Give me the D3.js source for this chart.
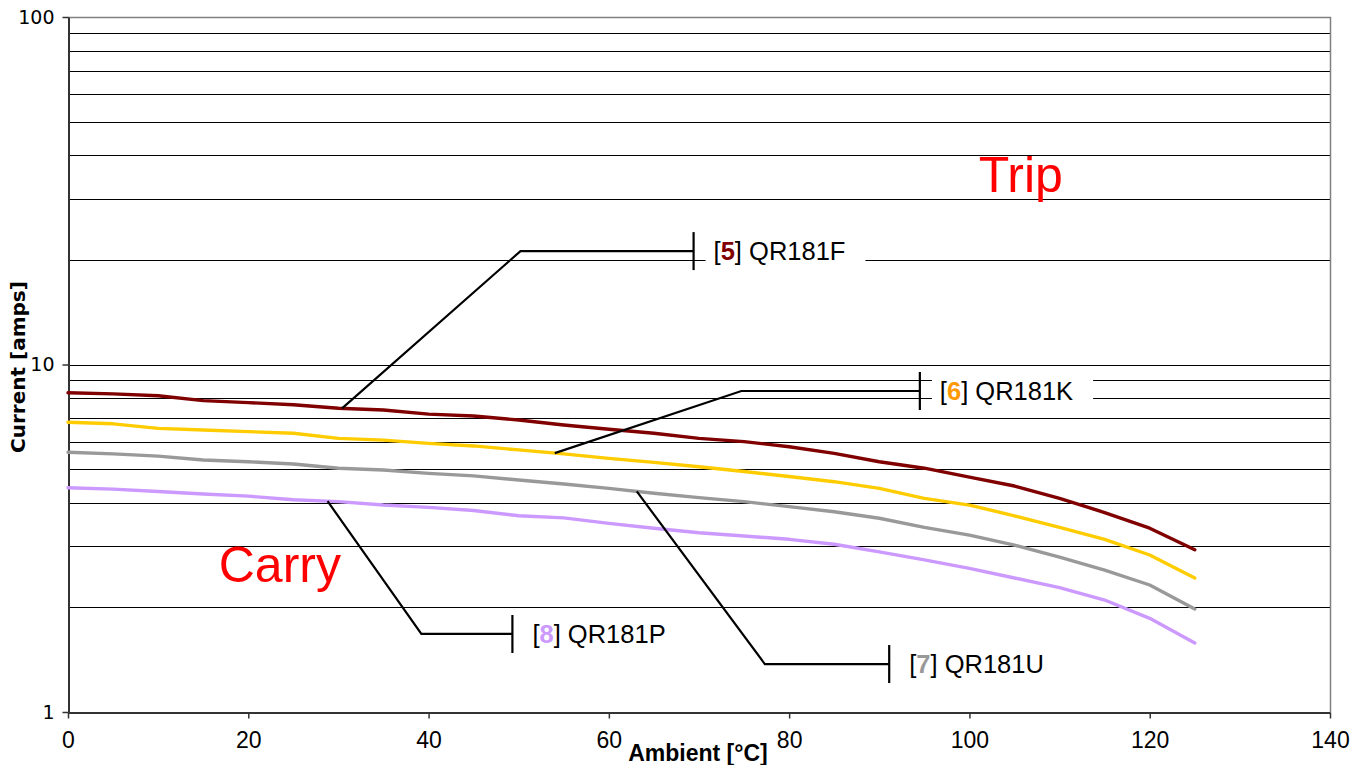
<!DOCTYPE html>
<html>
<head>
<meta charset="utf-8">
<script src="https://cdn.jsdelivr.net/npm/d3@7/dist/d3.min.js"></script>
<style>
  html, body { margin: 0; padding: 0; background: #fff; }
  svg { display: block; }
</style>
</head>
<body>
<svg id="chart" width="1364" height="765"></svg>
<script>
// Ambient temperature, °C
const temperatures = [0, 5, 10, 15, 20, 25, 30, 35, 40, 45, 50, 55, 60, 65, 70, 75, 80, 85, 90, 95, 100, 105, 110, 115, 120, 125];

// Hold / trip current per device, amps
const qr181F = [8.29, 8.23, 8.13, 7.87, 7.77, 7.66, 7.48, 7.40, 7.20, 7.11, 6.92, 6.70, 6.51, 6.34, 6.13, 6.00, 5.80, 5.55, 5.25, 5.03, 4.74, 4.47, 4.12, 3.75, 3.38, 2.93];
const qr181K = [6.82, 6.75, 6.55, 6.48, 6.41, 6.34, 6.13, 6.06, 5.93, 5.83, 5.68, 5.53, 5.37, 5.23, 5.08, 4.92, 4.76, 4.60, 4.40, 4.12, 3.94, 3.67, 3.40, 3.14, 2.83, 2.43];
const qr181U = [5.59, 5.53, 5.45, 5.31, 5.25, 5.17, 5.03, 4.97, 4.86, 4.78, 4.65, 4.53, 4.40, 4.26, 4.14, 4.03, 3.90, 3.77, 3.61, 3.40, 3.23, 3.02, 2.79, 2.56, 2.32, 1.98];
const qr181P = [4.42, 4.38, 4.31, 4.24, 4.18, 4.08, 4.03, 3.94, 3.88, 3.80, 3.67, 3.62, 3.49, 3.38, 3.28, 3.21, 3.14, 3.04, 2.89, 2.74, 2.59, 2.43, 2.28, 2.10, 1.86, 1.58];

// Series labels: bracketed index + part number
const seriesIndex = ["5", "6", "7", "8"];
const seriesNames = ["QR181F", "QR181K", "QR181U", "QR181P"];
const seriesColors = ["#800000", "#FFCC00", "#999999", "#CC99FF"];
const indexColors = ["#800000", "#FF9900", "#999999", "#CC99FF"];

// Axis ticks
const xTicks = [0, 20, 40, 60, 80, 100, 120, 140];
const yTicks = [1, 10, 100];
const yGrid = [2, 3, 4, 5, 6, 7, 8, 9, 10, 20, 30, 40, 50, 60, 70, 80, 90];

const svg = d3.select("#chart");
const W = 1364, H = 765;
const m = { left: 68, top: 17, right: 34, bottom: 53 };
const pw = W - m.left - m.right, ph = H - m.top - m.bottom;

const x = d3.scaleLinear().domain([0, 140]).range([m.left, m.left + pw]);
const y = d3.scaleLog().domain([1, 100]).range([m.top + ph, m.top]);

// Horizontal gridlines
svg.append("g").selectAll("line").data(yGrid).join("line")
  .attr("x1", x(0)).attr("x2", x(140))
  .attr("y1", d => Math.round(y(d)) + 0.5).attr("y2", d => Math.round(y(d)) + 0.5)
  .attr("stroke", "#000").attr("stroke-width", 1);

// Plot frame: top and right edges
svg.append("path")
  .attr("d", `M${x(0)},${Math.round(y(100)) + 0.5}H${Math.round(x(140)) + 0.5}V${y(1)}`)
  .attr("fill", "none").attr("stroke", "#808080").attr("stroke-width", 1.5);

// Axes
const xAxis = svg.append("g")
  .attr("transform", `translate(0,${Math.round(y(1)) + 0.5})`)
  .call(d3.axisBottom(x).tickValues(xTicks).tickSize(6).tickSizeOuter(0).tickPadding(13));
const yAxis = svg.append("g")
  .attr("transform", `translate(${Math.round(x(0)) + 0.5},0)`)
  .call(d3.axisLeft(y).tickValues(yTicks).tickFormat(d3.format("d")).tickSize(6).tickSizeOuter(0).tickPadding(8));

[xAxis, yAxis].forEach(g => {
  g.select(".domain").attr("stroke", "#333").attr("stroke-width", 2);
  g.selectAll(".tick line").attr("stroke", "#333").attr("stroke-width", 1.5);
});
xAxis.selectAll(".tick text")
  .attr("font-family", "'Liberation Sans Narrow', 'Liberation Sans', Arial, sans-serif")
  .attr("font-size", 23).attr("fill", "#000");
yAxis.selectAll(".tick text")
  .attr("font-family", "'DejaVu Sans', Verdana, sans-serif")
  .attr("font-size", 19).attr("fill", "#000");

// Axis titles
svg.append("text")
  .attr("x", 698).attr("y", 761)
  .attr("text-anchor", "middle")
  .attr("font-family", "'Liberation Sans Narrow', 'Liberation Sans', Arial, sans-serif")
  .attr("font-weight", "bold").attr("font-size", 23)
  .text("Ambient [°C]");

svg.append("text")
  .attr("transform", `translate(25,${367}) rotate(-90)`)
  .attr("text-anchor", "middle")
  .attr("font-family", "'DejaVu Sans', Verdana, sans-serif")
  .attr("font-weight", "bold").attr("font-size", 20)
  .text("Current [amps]");

// Region labels
svg.append("text").attr("x", x(105.7)).attr("y", y(30) - 7)
  .attr("text-anchor", "middle")
  .attr("font-family", "'Liberation Sans', Arial, sans-serif")
  .attr("font-size", 50).attr("fill", "#FF0000").text("Trip");
svg.append("text").attr("x", x(23.5)).attr("y", y(2) - 25)
  .attr("text-anchor", "middle")
  .attr("font-family", "'Liberation Sans', Arial, sans-serif")
  .attr("font-size", 50).attr("fill", "#FF0000").text("Carry");

// Curves
const series = [qr181F, qr181K, qr181U, qr181P];
const line = d3.line().x((d, i) => x(temperatures[i])).y(d => y(d));
svg.append("g").selectAll("path").data(series).join("path")
  .attr("d", d => line(d))
  .attr("fill", "none")
  .attr("stroke", (d, i) => seriesColors[i])
  .attr("stroke-width", 3.4)
  .attr("stroke-linejoin", "round").attr("stroke-linecap", "round");

// Current on a curve at a given temperature
function valueAt(values, t) {
  const i = Math.min(temperatures.length - 2, Math.max(0, d3.bisectRight(temperatures, t) - 1));
  const t0 = temperatures[i], t1 = temperatures[i + 1];
  const f = (t - t0) / (t1 - t0);
  return Math.exp(Math.log(values[i]) * (1 - f) + Math.log(values[i + 1]) * f);
}

// Leader callouts: curve anchor -> elbow -> bar with label
const callouts = [
  { s: 0, anchorT: 30.4, elbowT: 50.2, elbowI: 21.2, endT: 69.4 },
  { s: 1, anchorT: 54.0, elbowT: 74.7, elbowI: 8.39, endT: 94.5 },
  { s: 2, anchorT: 63.1, elbowT: 77.3, elbowI: 1.374, endT: 91.1 },
  { s: 3, anchorT: 28.8, elbowT: 39.2, elbowI: 1.677, endT: 49.3 }
];

const cg = svg.append("g");
callouts.forEach(c => {
  const ax = x(c.anchorT), ay = y(valueAt(series[c.s], c.anchorT));
  const ex = x(c.elbowT), ey = y(c.elbowI);
  const bx = x(c.endT);
  cg.append("path")
    .attr("d", `M${ax},${ay}L${ex},${ey}H${bx}`)
    .attr("fill", "none").attr("stroke", "#000").attr("stroke-width", 2.2);
  cg.append("line")
    .attr("x1", bx).attr("x2", bx).attr("y1", ey - 19).attr("y2", ey + 19)
    .attr("stroke", "#000").attr("stroke-width", 2.2);

  const label = cg.append("g").attr("transform", `translate(${bx + 20},${ey})`);
  const bg = label.append("rect").attr("fill", "#fff");
  const t = label.append("text")
    .attr("dy", "0.36em")
    .attr("font-family", "'Liberation Sans', Arial, sans-serif")
    .attr("font-size", 25.5).attr("fill", "#000");
  t.append("tspan").text("[");
  t.append("tspan").attr("font-weight", "bold").attr("fill", indexColors[c.s]).text(seriesIndex[c.s]);
  t.append("tspan").text("] " + seriesNames[c.s]);
  const bb = t.node().getBBox();
  bg.attr("x", bb.x - 8).attr("y", -17).attr("width", bb.width + 28).attr("height", 34);
});
</script>
</body>
</html>
